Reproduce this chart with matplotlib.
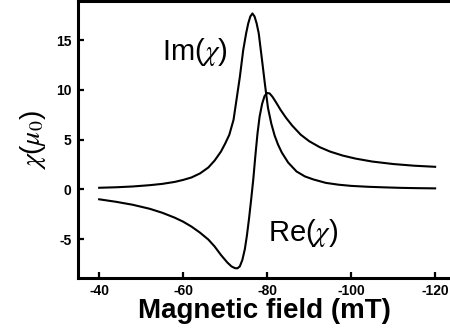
import matplotlib
matplotlib.use("Agg")
import matplotlib.pyplot as plt

# Data
im_field = [-40, -44, -48, -52, -55, -58, -60, -62, -64, -66, -67.5, -69, -70, -71,
            -72, -72.7, -73.5, -74.3, -75, -75.5, -76, -76.5, -77, -77.5, -78, -78.7,
            -79.5, -80.2, -81, -81.8, -82.6, -83.5, -85, -87, -89, -91, -94, -97,
            -100, -104, -108, -112, -116, -120]
im_chi = [0.16, 0.21, 0.29, 0.42, 0.55, 0.75, 0.95, 1.2, 1.6, 2.2, 2.9, 3.8, 4.6, 5.5,
          7.0, 9.0, 11.3, 14.0, 15.7, 16.7, 17.4, 17.7, 17.4, 16.7, 15.7, 13.3,
          10.5, 8.2, 6.6, 5.4, 4.5, 3.7, 2.7, 1.8, 1.3, 1.0, 0.65, 0.47,
          0.35, 0.26, 0.2, 0.15, 0.12, 0.1]

re_field = [-40, -44, -48, -52, -55, -58, -60, -62, -64, -66, -67.5, -69, -70.5, -71.5,
            -72.3, -72.9, -73.5, -74.1, -74.7, -75.2, -75.7, -76.2, -76.7, -77.2, -77.7,
            -78.2, -78.8, -79.4, -80.0, -80.6, -81.3, -82.2, -83.2, -84.5, -86, -88,
            -90, -92.5, -95, -98, -101, -105, -110, -115, -120]
re_chi = [-1.0, -1.25, -1.55, -1.95, -2.35, -2.85, -3.25, -3.75, -4.35, -5.05, -5.75,
          -6.6, -7.35, -7.75, -7.92, -7.95, -7.75, -7.1, -6.0, -4.6, -2.9, -1.0, 1.0,
          3.4, 5.6, 7.3, 8.6, 9.4, 9.7, 9.65, 9.3, 8.7, 8.0, 7.2, 6.4, 5.5,
          4.85, 4.25, 3.8, 3.4, 3.1, 2.8, 2.55, 2.38, 2.27]

x_ticks = [-40, -60, -80, -100, -120]
y_ticks = [-5, 0, 5, 10, 15]

plt.rcParams['font.family'] = ['Liberation Sans', 'DejaVu Sans']
plt.rcParams['mathtext.fontset'] = 'stix'

fig = plt.figure(figsize=(4.5, 3.36), dpi=100)
ax = fig.add_axes([0.173, 0.1726, 0.831, 0.824])

ax.plot(im_field, im_chi, color='black', lw=1.5, solid_joinstyle='round')
ax.plot(re_field, re_chi, color='black', lw=1.5, solid_joinstyle='round')

ax.set_xlim(-34.93, -123.97)
ax.set_ylim(-8.92, 18.94)
ax.set_xticks(x_ticks)
ax.set_yticks(y_ticks)
ax.set_xticklabels([str(t) for t in x_ticks], fontweight='bold', fontsize=10)
ax.set_yticklabels([str(t) for t in y_ticks], fontweight='bold', fontsize=10)
ax.tick_params(direction='in', length=4.5, width=1.6, pad=4.5)

for s in ax.spines.values():
    s.set_linewidth(2.2)

ax.set_xlabel('Magnetic field (mT)', fontsize=20, fontweight='bold', labelpad=0)
ax.set_ylabel(r'$\chi$($\mu_0$)', fontsize=20, labelpad=6)

ax.text(-62.7, 13.8, r'Im($\chi$)', fontsize=21, ha='center', va='center')
ax.text(-88.5, -4.4, r'Re($\chi$)', fontsize=21, ha='center', va='center')

fig.savefig('out.png', dpi=100)
